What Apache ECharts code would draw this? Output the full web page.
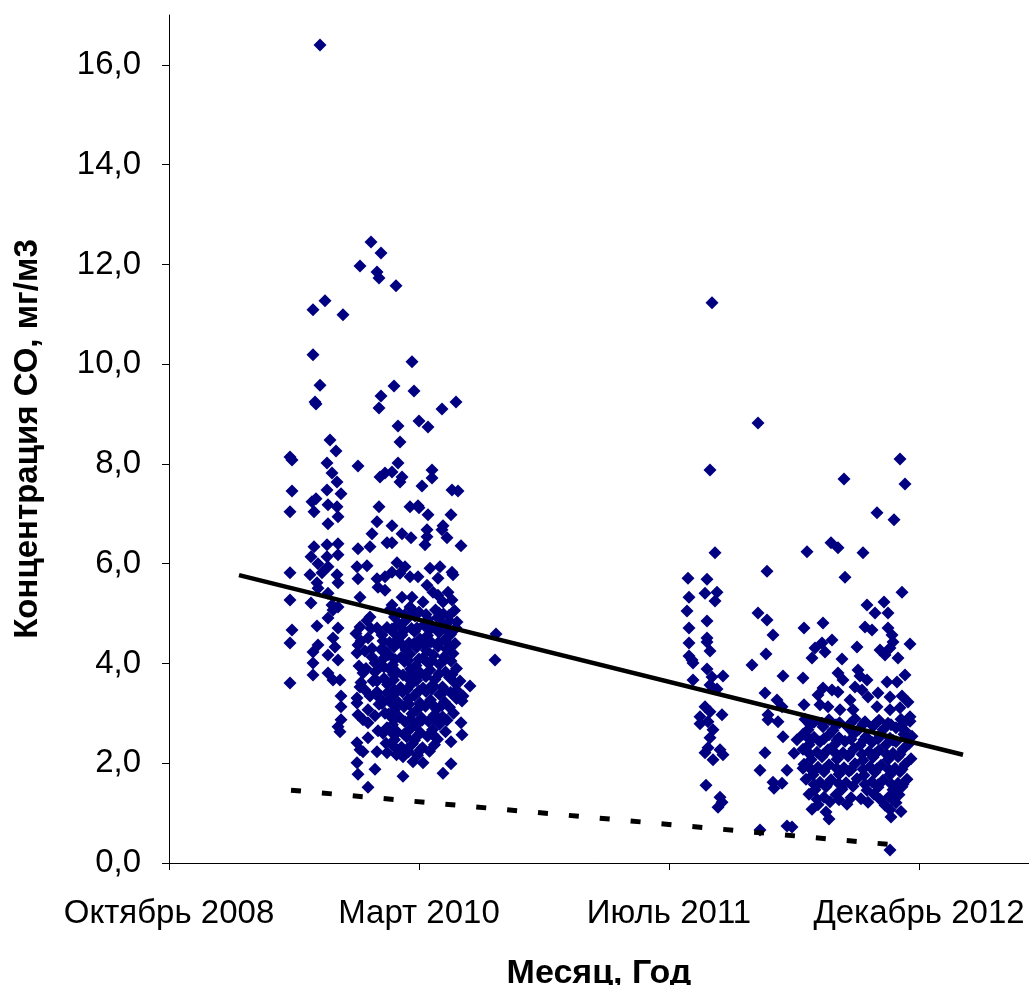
<!DOCTYPE html>
<html><head><meta charset="utf-8">
<script src="https://cdn.jsdelivr.net/npm/echarts@6/dist/echarts.min.js"></script>
<style>html,body{margin:0;padding:0;background:#fff}#chart{width:1029px;height:985px}</style>
</head><body><div id="chart"></div>
<script>
// x values are days counted from the first axis tick ("Октябрь 2008")
const xTickValues = [0, 500, 1000, 1500];
const xTickLabels = ['Октябрь 2008', 'Март 2010', 'Июль 2011', 'Декабрь 2012'];
const yTickValues = [0, 2, 4, 6, 8, 10, 12, 14, 16];

const period1Points = [
[302,16.40],[404,12.45],[424,12.23],[382,11.97],[416,11.85],[420,11.73],[454,11.57],[312,11.27],[288,11.09],[348,10.99],
[288,10.19],[486,10.05],[302,9.58],[450,9.56],[490,9.46],[424,9.36],[292,9.24],[294,9.20],[574,9.24],[546,9.10],
[420,9.12],[458,8.76],[500,8.86],[518,8.74],
[322,8.48],[334,8.26],[242,8.14],[246,8.08],[316,8.02],[378,7.96],[326,7.82],[422,7.74],[432,7.82],[336,7.64],
[246,7.46],[316,7.48],[294,7.30],[286,7.24],[344,7.40],[318,7.18],[336,7.14],[420,7.14],[242,7.04],[290,7.04],
[338,6.94],[416,6.84],[318,6.80],[406,6.60],[290,6.34],[316,6.38],[338,6.40],[378,6.30],[402,6.34],[436,6.42],
[284,6.14],[316,6.14],[338,6.18],[298,6.00],[318,5.94],[376,5.94],[396,5.96],[242,5.82],[282,5.78],[306,5.82],
[336,5.78],[378,5.70],[416,5.70],[432,5.74],[296,5.62],[338,5.62],[298,5.51],[418,5.53],[432,5.47],[318,5.41],
[242,5.27],[284,5.21],[382,5.33],[326,5.17],[338,5.13],
[462,8.44],[458,8.02],[446,7.84],[466,7.74],[462,7.64],[526,7.88],[526,7.72],[506,7.56],[566,7.48],[578,7.46],
[482,7.14],[498,7.16],[500,7.12],[518,6.98],[564,6.98],[446,6.76],[548,6.76],[546,6.68],[466,6.60],[484,6.52],
[516,6.68],[516,6.54],[512,6.38],[556,6.52],[446,6.42],[584,6.36],[456,6.02],[472,5.94],[446,5.83],[462,5.81],
[522,5.91],[542,5.94],[538,5.71],[566,5.83],[568,5.78],[482,5.74],[498,5.74],[516,5.57],[528,5.43],[538,5.37],
[558,5.43],[566,5.27],[466,5.33],[486,5.33],[508,5.23],[548,5.23],[446,5.17],[482,5.13],
[246,4.67],[242,4.41],[242,3.61],[296,4.75],[318,4.91],[338,4.71],[328,5.07],[298,4.37],[288,4.23],[288,4.01],
[288,3.77],[328,4.51],[332,4.33],[318,4.17],[338,4.07],[318,3.81],[328,3.67],[342,3.67],[344,3.35],[344,3.13],
[344,2.87],[338,2.73],[342,2.63],[382,4.73],[398,4.51],[416,4.71],[426,4.57],[378,4.37],[376,4.21],[406,4.13],
[412,4.01],[426,4.07],[402,4.93],[388,3.81],[412,3.83],[382,3.53],[392,3.47],[416,3.43],[436,3.41],[376,3.31],
[376,3.21],[398,3.07],[378,2.97],[388,2.87],[398,2.81],[436,2.71],[398,2.51],[376,2.41],[382,2.27],[388,2.23],
[416,2.23],[436,2.21],[376,2.01],[412,1.88],[378,1.78],[398,1.52],
[654,4.59],[652,4.07],[602,3.55],[576,4.83],[586,3.25],[584,2.81],[586,2.57],[564,2.43],[564,1.99],[548,1.80],
[468,1.74],[508,2.01],[488,2.03],[468,2.13],
[374,4.60],[384,4.45],[392,4.25],[406,4.30],[380,3.95],[394,3.90],[408,3.65],[384,3.62],[402,3.35],[422,3.30],
[416,3.65],[424,4.28],[430,3.93],[412,2.95],[418,2.65],[420,3.18],[404,4.70],[396,4.86]
];

const period1Dense = [
[442,5.08],[460,5.01],[483,5.10],[500,5.03],[533,5.07],[549,4.99],[571,5.06],
[451,4.93],[473,4.86],[492,4.95],[518,4.88],[537,4.92],[561,4.85],
[436,4.72],[459,4.79],[485,4.70],[510,4.77],[527,4.73],[546,4.80],[574,4.71],
[448,4.63],[466,4.57],[491,4.64],[517,4.56],[540,4.62],[563,4.58],
[441,4.42],[457,4.48],[480,4.41],[502,4.49],[524,4.43],[551,4.47],[572,4.40],
[450,4.33],[474,4.27],[495,4.32],[515,4.26],[538,4.34],[556,4.28],
[439,4.18],[464,4.12],[482,4.19],[508,4.11],[529,4.17],[550,4.13],[568,4.20],
[447,3.97],[471,4.04],[494,3.96],[516,4.03],[541,3.98],[564,4.05],
[442,3.88],[456,3.82],[483,3.89],[503,3.81],[522,3.87],[553,3.83],[575,3.90],
[449,3.67],[476,3.73],[495,3.66],[514,3.74],[532,3.68],[561,3.72],[582,3.65],
[437,3.58],[463,3.52],[485,3.59],[508,3.51],[527,3.57],[547,3.53],[573,3.60],
[449,3.37],[467,3.43],[491,3.36],[514,3.44],[541,3.38],[563,3.42],[588,3.35],
[441,3.28],[459,3.22],[479,3.29],[502,3.21],[523,3.27],[551,3.23],[575,3.30],
[451,3.07],[470,3.13],[495,3.06],[513,3.14],[535,3.08],[561,3.12],
[439,2.98],[461,2.92],[486,2.99],[505,2.91],[531,2.97],[547,2.93],[569,3.00],
[447,2.77],[472,2.83],[494,2.76],[519,2.84],[541,2.78],
[441,2.68],[457,2.62],[483,2.69],[503,2.61],[527,2.67],[553,2.63],
[451,2.47],[475,2.53],[491,2.46],[517,2.54],[537,2.48],
[445,2.38],[465,2.32],[487,2.39],[507,2.31],[531,2.37],
[455,2.17],[479,2.23],[497,2.16],[521,2.24],
[428,4.45],[432,4.25],[424,3.95],[430,3.7],[426,3.2],[432,3.0],[428,2.6],[434,2.4],
[452,5.00],[471,4.97],[492,5.02],[514,4.98],[540,5.01],[560,4.96],
[446,4.69],[470,4.66],[496,4.71],[520,4.67],[538,4.70],[558,4.65],
[450,4.39],[468,4.36],[490,4.40],[512,4.37],[538,4.41],[562,4.36],
[452,4.08],[478,4.06],[500,4.09],[526,4.06],[552,4.08],
[449,3.78],[468,3.77],[490,3.80],[512,3.76],[540,3.79],[566,3.78],
[451,3.47],[476,3.48],[500,3.45],[526,3.49],[552,3.46],[575,3.47],
[448,3.17],[480,3.18],[504,3.16],[526,3.19],[546,3.16],
[450,2.87],[483,2.88],[506,2.86],[530,2.89],[556,2.86],
[450,2.57],[470,2.58],[498,2.56],[528,2.57],
[456,2.27],[476,2.28],[502,2.26]
];

const period2Points = [
[1086,11.23],[1178,8.82],[1082,7.88],[1462,8.10],[1350,7.70],[1472,7.60],[1416,7.02],[1450,6.88],[1092,6.22],[1276,6.24],
[1324,6.42],[1338,6.32],[1388,6.22],[1196,5.85],[1038,5.71],[1076,5.69],[1352,5.73],
[1072,5.41],[1096,5.43],[1092,5.25],[1040,5.33],[1036,5.05],[1076,4.85],[1040,4.71],[1076,4.51],[1076,4.43],
[1082,4.25],[1040,4.41],[1040,4.15],[1046,4.07],[1048,4.01],[1178,5.01],[1196,4.87],[1208,4.57],[1194,4.19],[1166,3.97],
[1228,3.75],[1076,3.89],[1086,3.73],[1108,3.75],[1048,3.67],[1082,3.57],[1096,3.49],[1192,3.41],[1216,3.27],[1226,3.13],
[1072,3.13],[1082,3.03],[1106,2.97],[1062,2.93],[1198,2.97],
[1062,2.79],[1078,2.83],[1088,2.67],[1082,2.51],[1078,2.31],[1072,2.21],[1102,2.27],[1108,2.17],[1088,2.07],[1074,1.56],
[1102,1.32],[1106,1.22],[1098,1.12],[1192,2.21],[1182,1.86],[1208,1.62],[1226,1.60],[1210,1.50],[1182,0.66],[1236,1.86],
[1236,0.74],[1198,2.87],[1218,2.83],[1228,2.53],
[1466,5.43],[1396,5.17],[1430,5.23],[1412,5.01],[1438,5.01],[1270,4.71],[1308,4.81],[1392,4.73],[1406,4.67],[1438,4.71],
[1446,4.57],[1448,4.43],[1442,4.31],[1422,4.27],[1432,4.17],[1482,4.39],[1458,4.11],[1376,4.33],[1326,4.47],[1306,4.41],
[1292,4.31],[1312,4.23],[1286,4.11],[1346,4.09],[1268,3.71],[1338,3.81],[1348,3.67],[1378,3.87],[1382,3.75],[1472,3.77],
[1456,3.63],[1436,3.63],[1396,3.67],[1308,3.51],[1298,3.37],[1326,3.47],[1338,3.43],[1372,3.53],[1386,3.47],[1398,3.33],
[1418,3.41],[1442,3.33],[1466,3.35],[1478,3.23],[1270,3.17],[1302,3.17],[1318,3.13],[1342,3.07],[1362,3.27],[1368,3.07],
[1416,3.13],[1442,3.07],[1462,3.11],[1482,2.93],
[1256,2.47],[1268,1.90],[1250,2.20],[1246,0.72],[1442,0.26]
];

const period2Dense = [
[1272,2.88],[1290,2.82],[1320,2.87],[1341,2.81],[1372,2.89],[1392,2.83],[1420,2.86],[1438,2.80],[1464,2.88],[1482,2.84],
[1278,2.67],[1308,2.73],[1328,2.66],[1358,2.72],[1380,2.68],[1408,2.74],[1428,2.67],[1454,2.71],[1472,2.65],
[1268,2.58],[1290,2.52],[1320,2.57],[1340,2.51],[1370,2.59],[1394,2.53],[1422,2.56],[1442,2.50],[1470,2.58],[1486,2.54],
[1280,2.37],[1302,2.43],[1332,2.38],[1352,2.44],[1382,2.36],[1406,2.42],[1434,2.37],[1454,2.43],[1480,2.39],
[1268,2.28],[1296,2.22],[1318,2.27],[1348,2.21],[1370,2.29],[1400,2.23],[1420,2.26],[1448,2.20],[1468,2.28],
[1284,2.07],[1306,2.13],[1336,2.08],[1358,2.14],[1388,2.06],[1408,2.12],[1438,2.07],[1458,2.13],[1484,2.09],
[1270,1.98],[1298,1.92],[1320,1.97],[1350,1.91],[1372,1.99],[1402,1.93],[1424,1.96],[1452,1.90],[1472,1.98],
[1288,1.77],[1310,1.83],[1340,1.78],[1360,1.84],[1390,1.76],[1412,1.82],[1442,1.77],[1462,1.83],
[1274,1.68],[1302,1.62],[1324,1.67],[1354,1.61],[1376,1.69],[1406,1.63],[1428,1.66],[1458,1.60],[1476,1.68],
[1292,1.47],[1314,1.53],[1346,1.48],[1368,1.54],[1396,1.46],[1418,1.52],[1448,1.47],[1466,1.53],
[1280,1.38],[1310,1.32],[1334,1.37],[1364,1.31],[1410,1.38],[1440,1.33],[1460,1.37],
[1298,1.17],[1322,1.23],[1356,1.18],[1398,1.22],[1432,1.16],[1454,1.21],
[1286,1.08],[1314,1.02],[1442,1.07],[1464,1.03],
[1320,0.88],[1444,0.92],
[1282,2.78],[1306,2.80],[1334,2.77],[1362,2.79],[1388,2.78],[1414,2.80],[1444,2.77],[1468,2.79],
[1282,2.47],[1310,2.49],[1336,2.46],[1364,2.48],[1390,2.47],[1418,2.49],[1448,2.46],[1476,2.48],
[1282,2.18],[1308,2.17],[1334,2.19],[1360,2.17],[1386,2.18],[1412,2.19],[1436,2.17],[1462,2.18],
[1284,1.88],[1310,1.87],[1336,1.89],[1364,1.87],[1388,1.88],[1416,1.89],[1440,1.87],[1466,1.88],
[1290,1.58],[1316,1.57],[1340,1.59],[1392,1.58],[1418,1.57],[1444,1.59],[1468,1.58],
[1296,1.28],[1340,1.27],[1384,1.29],[1422,1.28],[1448,1.27]
];

const trendLine = [[140, 5.77], [1588, 2.17]];
const lowerLine = [[244, 1.46], [1454, 0.36]];

const FONT = 'Liberation Sans, Arial, sans-serif';
const chart = echarts.init(document.getElementById('chart'), null, {renderer: 'canvas'});
const markerStyle = {color: '#000080', opacity: 1};
chart.setOption({
  animation: false,
  backgroundColor: '#ffffff',
  grid: {left: 169, right: 0, top: 15, bottom: 122, containLabel: false, outerBoundsMode: 'none'},
  xAxis: {
    type: 'value', min: 0, max: 1720, interval: 500,
    name: 'Месяц, Год', nameLocation: 'middle', nameGap: 94,
    nameTextStyle: {fontFamily: FONT, fontSize: 34, fontWeight: 'bold', color: '#000'},
    axisLine: {show: true, lineStyle: {color: '#000', width: 1}},
    axisTick: {show: true, inside: false, length: 7, lineStyle: {color: '#000'}, customValues: xTickValues},
    axisLabel: {
      fontFamily: FONT, fontSize: 33, color: '#000', margin: 34, customValues: xTickValues,
      formatter: v => { const i = xTickValues.indexOf(v); return i >= 0 ? xTickLabels[i] : ''; }
    },
    splitLine: {show: false}
  },
  yAxis: {
    type: 'value', min: 0, max: 17, interval: 2,
    name: 'Концентрация СО, мг/м3', nameLocation: 'middle', nameGap: 125, nameRotate: 90,
    nameTextStyle: {fontFamily: FONT, fontSize: 33, fontWeight: 'bold', color: '#000'},
    axisLine: {show: true, lineStyle: {color: '#000', width: 1}},
    axisTick: {show: true, inside: false, length: 7, lineStyle: {color: '#000'}, customValues: yTickValues},
    axisLabel: {
      fontFamily: FONT, fontSize: 33, color: '#000', margin: 28, customValues: yTickValues,
      formatter: v => v.toFixed(1).replace('.', ',')
    },
    splitLine: {show: false}
  },
  series: [
    {type: 'scatter', name: 'period1', data: period1Points.concat(period1Dense), symbol: 'diamond', symbolSize: 13, itemStyle: markerStyle, z: 2},
    {type: 'scatter', name: 'period2', data: period2Points.concat(period2Dense), symbol: 'diamond', symbolSize: 13, itemStyle: markerStyle, z: 2},
    {type: 'line', name: 'trend', data: trendLine, showSymbol: false, symbol: 'none', lineStyle: {color: '#000', width: 4.5}, z: 3},
    {type: 'line', name: 'lower', data: lowerLine, showSymbol: false, symbol: 'none', lineStyle: {color: '#000', width: 5, type: [10, 21], cap: 'butt'}, z: 3}
  ]
});
</script>
</body></html>
